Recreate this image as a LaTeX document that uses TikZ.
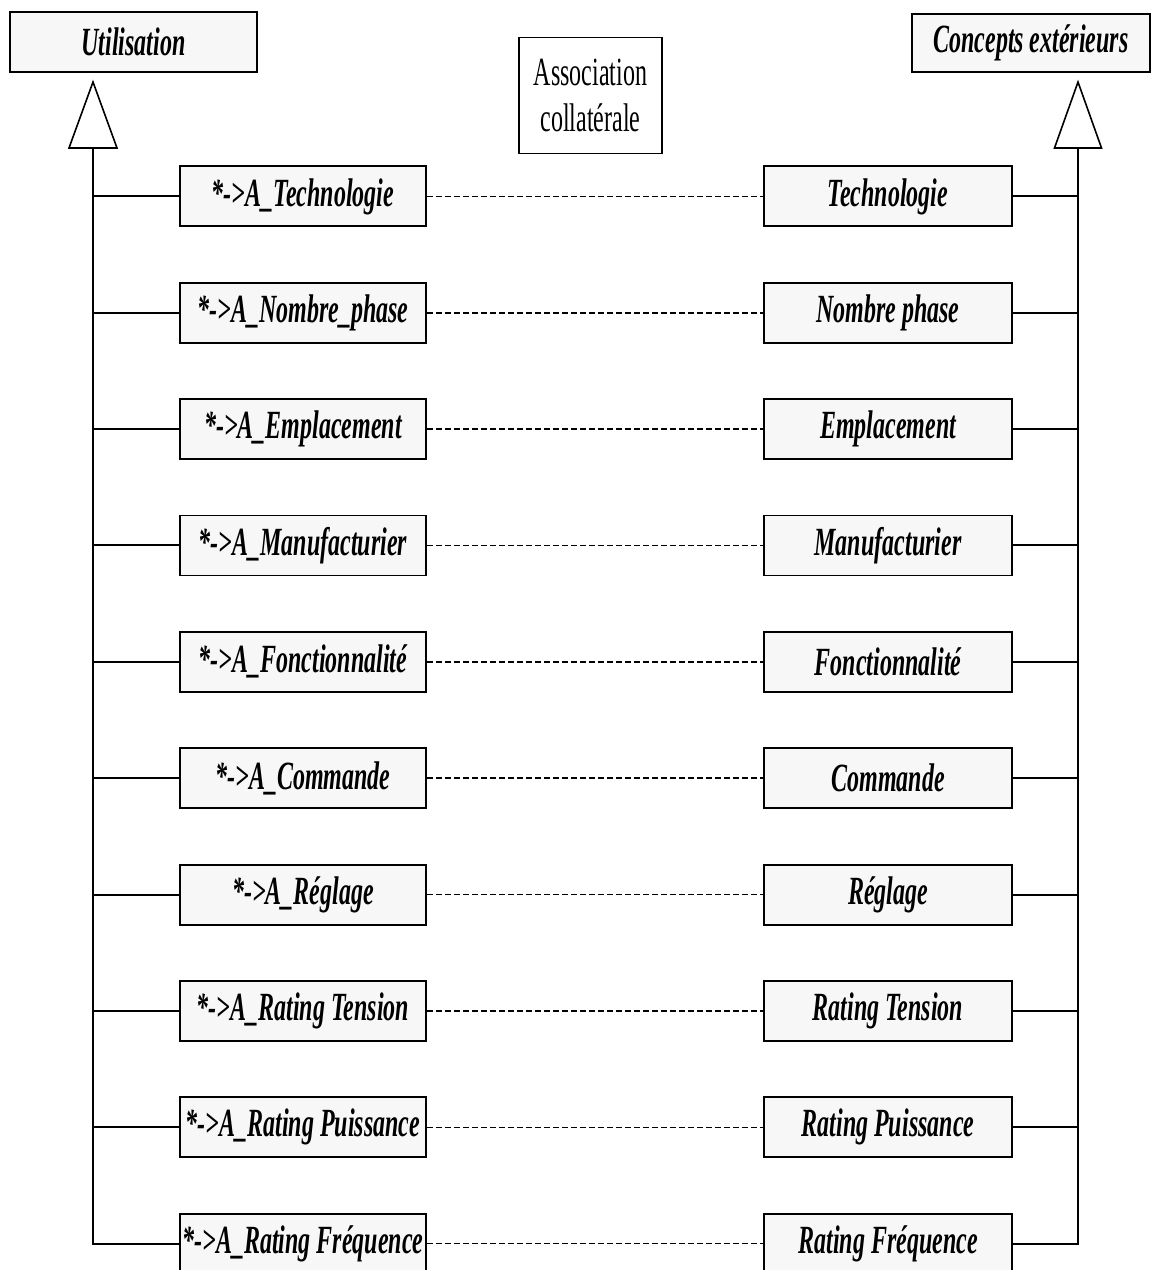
\documentclass[tikz,border=0pt]{standalone}
\usepackage{fontspec}
\setmainfont{Liberation Serif}
\newfontfamily\condf[FakeStretch=0.6]{Liberation Serif}
\begin{document}
\begin{tikzpicture}[x=1pt,y=-1pt,
  boxfont/.style={font=\condf\fontsize{40}{46}\selectfont\bfseries\itshape},
  cls/.style={draw, line width=1.9pt, fill=black!3, inner sep=0pt, boxfont},
  lbox/.style={cls, minimum width=246pt, minimum height=60pt},
  rbox/.style={cls, minimum width=248pt, minimum height=60pt},
  conn/.style={line width=2pt},
  coll/.style={line width=1.5pt, dash pattern=on 6pt off 3pt},
  tri/.style={line width=1.6pt, fill=white}
]
\useasboundingbox (0,0) rectangle (1159,1270);
\clip (0,0) rectangle (1159,1270);

% top classes
\node[cls, minimum width=247pt, minimum height=60pt] (util) at (133.5,42) {Utilisation};
\node[cls, minimum width=238pt, minimum height=58pt] (ext) at (1031,43) {Concepts extérieurs};
\node[draw, line width=1.4pt, minimum width=143pt, minimum height=116pt, inner sep=0pt, align=center,
      font=\condf\fontsize{40}{46}\selectfont] (assoc) at (590.5,95.5) {Association\\collatérale};

% generalisation triangles
\coordinate (ltip) at (93,82);
\coordinate (lbase) at (93,148);
\coordinate (rtip) at (1078,82);
\coordinate (rbase) at (1078,148);
\draw[tri] (ltip) -- ([xshift=-24pt]lbase) -- ([xshift=24pt]lbase) -- cycle;
\draw[tri] (rtip) -- ([xshift=-23.5pt]rbase) -- ([xshift=23.5pt]rbase) -- cycle;

\foreach \l/\r [count=\i] in {%
  *->A\_Technologie/Technologie,
  *->A\_Nombre\_phase/Nombre phase,
  *->A\_Emplacement/Emplacement,
  *->A\_Manufacturier/Manufacturier,
  *->A\_Fonctionnalité/Fonctionnalité,
  *->A\_Commande/Commande,
  *->A\_Réglage/Réglage,
  *->A\_Rating Tension/Rating Tension,
  *->A\_Rating Puissance/Rating Puissance,
  *->A\_Rating Fréquence/Rating Fréquence}{
  \pgfmathsetmacro{\yy}{196.4+116.36*(\i-1)}
  \node[lbox] (L\i) at (303,\yy) {\l};
  \node[rbox] (R\i) at (888,\yy) {\r};
  \draw[coll] (L\i.east) -- (R\i.west);
}
\foreach \i in {1,...,9}{
  \draw[conn] (L\i.west) -- (L\i.west -| lbase);
  \draw[conn] (R\i.east) -- (R\i.east -| rbase);
}
\draw[conn] (lbase) |- (L10.west);
\draw[conn] (rbase) |- (R10.east);
\end{tikzpicture}
\end{document}
